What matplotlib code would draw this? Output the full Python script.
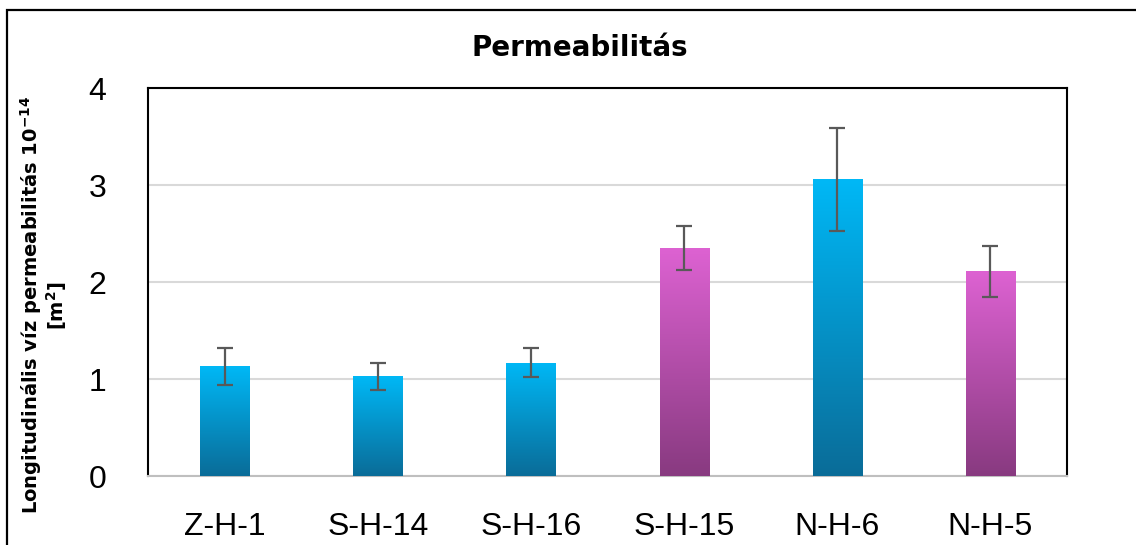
import numpy as np
import matplotlib
matplotlib.use("Agg")
import matplotlib.pyplot as plt
from matplotlib.colors import LinearSegmentedColormap
from matplotlib.patches import Rectangle

# data
samples = ["Z-H-1", "S-H-14", "S-H-16", "S-H-15", "N-H-6", "N-H-5"]
perm = [1.13, 1.03, 1.17, 2.35, 3.06, 2.11]
perm_err = [0.19, 0.14, 0.15, 0.23, 0.53, 0.26]
groups = ["blue", "blue", "blue", "pink", "blue", "pink"]

grad_colors = {
    "blue": ("#0a6c98", "#00b8f6"),
    "pink": ("#883a80", "#dd62d2"),
}

fig = plt.figure(figsize=(11.36, 5.45), dpi=100)
ax = fig.add_axes([0.1303, 0.1266, 0.8090, 0.7119])

x = np.arange(len(samples))
bars = ax.bar(x, perm, width=0.32, color="none", edgecolor="none", zorder=3)

grad = np.linspace(0, 1, 256).reshape(-1, 1)
for b, g in zip(bars, groups):
    cmap = LinearSegmentedColormap.from_list(g, grad_colors[g])
    x0, y0 = b.get_x(), b.get_y()
    w, h = b.get_width(), b.get_height()
    im = ax.imshow(grad, cmap=cmap, origin="lower", aspect="auto",
                   extent=[x0, x0 + w, y0, y0 + h], zorder=3)
    im.set_clip_path(b)

ax.errorbar(x, perm, yerr=perm_err, fmt="none", ecolor="#595959",
            elinewidth=1.6, capsize=6, capthick=1.6, zorder=4)

ax.set_xlim(-0.5, len(samples) - 0.5)
ax.set_ylim(0, 4)
ax.set_yticks([0, 1, 2, 3, 4])
ax.set_xticks(x)
ax.set_xticklabels(samples)
ax.tick_params(axis="both", length=0, labelsize=23)
ax.tick_params(axis="y", pad=30)
ax.tick_params(axis="x", pad=26)
for lab in ax.get_xticklabels() + ax.get_yticklabels():
    lab.set_fontfamily("Liberation Sans")

ax.grid(axis="y", color="#d9d9d9", linewidth=1.5, zorder=0)
ax.set_axisbelow(True)
for s in ["left", "top", "right"]:
    ax.spines[s].set_color("black")
    ax.spines[s].set_linewidth(1.5)
ax.spines["bottom"].set_color("#bfbfbf")
ax.spines["bottom"].set_linewidth(1.5)

fig.text(580 / 1136, 1 - 48 / 545, "Permeabilitás", fontsize=20,
         fontweight="bold", ha="center", va="center")
ax.set_ylabel("Longitudinális víz permeabilitás 10$^{\\mathbf{-14}}$\n[m$^{\\mathbf{2}}$]",
              fontsize=14, fontweight="bold", linespacing=1.0)
ax.yaxis.set_label_coords(-0.086, 0.44)

# outer chart frame
fig.patches.append(Rectangle((7 / 1136, -0.1), 1.2, 1 - 10 / 545 + 0.1,
                             transform=fig.transFigure, fill=False,
                             edgecolor="black", linewidth=1.6))

fig.savefig("out.png", dpi=100)
